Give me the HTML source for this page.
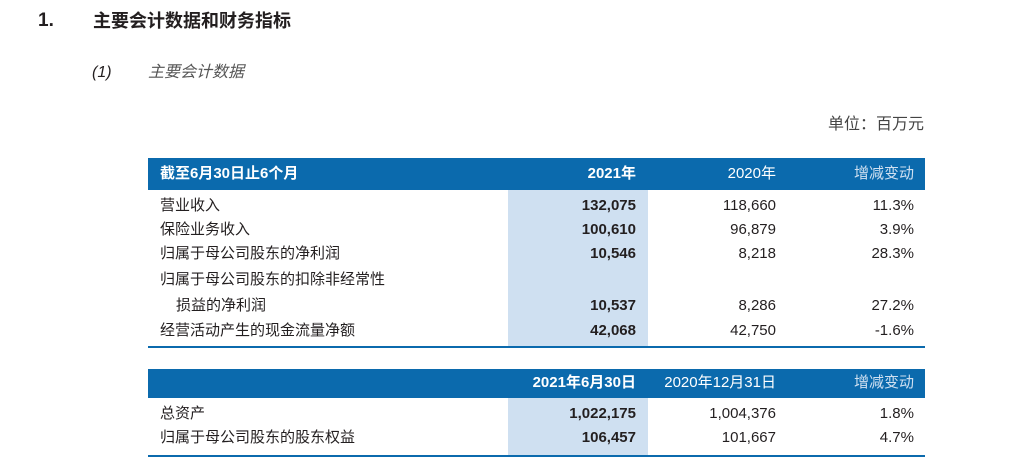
<!DOCTYPE html>
<html><head><meta charset="utf-8"><style>
body{margin:0;width:1024px;height:461px;background:#fff;position:relative;overflow:hidden;font-family:"Liberation Sans","Noto Sans CJK SC",sans-serif;color:#231f20}
.a{position:absolute;white-space:nowrap}
.hdr{position:absolute;left:148px;width:777px;background:#0b6aad}
.hl{position:absolute;left:508px;width:140px;background:#cfe0f1}
.line{position:absolute;left:148px;width:777px;height:2px;background:#0b6aad}
.r{text-align:right}
.c{font-size:15px;line-height:20px}
.h{font-size:15px;line-height:20px;color:#fff}
</style></head><body>
<div class="a" style="left:38px;top:9px;font-size:19px;font-weight:bold;line-height:24px">1.</div>
<div class="a" style="left:93px;top:9px;font-size:18px;font-weight:bold;line-height:24px">主要会计数据和财务指标</div>
<div class="a" style="left:92px;top:62px;font-size:16px;font-style:italic;line-height:22px">(1)</div>
<div class="a" style="left:148px;top:62px;font-size:16px;font-style:italic;color:#555;line-height:22px">主要会计数据</div>
<div class="a r" style="right:100px;top:114px;font-size:16px;color:#444;line-height:22px">单位：百万元</div>

<div class="hl" style="top:190px;height:157px"></div>
<div class="hdr" style="top:158px;height:32px"></div>
<div class="line" style="top:346px"></div>
<div class="a h" style="left:160px;top:164px;font-weight:bold">截至6月30日止6个月</div>
<div class="a h r" style="right:388px;top:164px;font-weight:bold">2021年</div>
<div class="a h r" style="right:248px;top:164px">2020年</div>
<div class="a h r" style="right:110px;top:164px;color:#cfe0f1">增减变动</div>

<div id="t1"></div>

<div class="hl" style="top:398px;height:57px"></div>
<div class="hdr" style="top:369px;height:29px"></div>
<div class="line" style="top:455px"></div>
<div class="a h r" style="right:388px;top:373px;font-weight:bold">2021年6月30日</div>
<div class="a h r" style="right:248px;top:373px">2020年12月31日</div>
<div class="a h r" style="right:110px;top:373px;color:#cfe0f1">增减变动</div>
<div id="t2"></div>

<script>
function row(parent,top,label,indent,v1,v2,v3){
  var p=document.getElementById(parent);
  var cells=[[label,'left:'+(160+indent)+'px',false],[v1,'right:388px',true],[v2,'right:248px',false],[v3,'right:110px',false]];
  cells.forEach(function(c,i){
    var d=document.createElement('div');
    d.className='a c'+(i?' r':'');
    d.setAttribute('style',c[1]+';top:'+top+'px;'+(c[2]?'font-weight:bold':''));
    d.textContent=c[0];
    
    
    p.appendChild(d);
  });
}
row('t1',196,'营业收入',0,'132,075','118,660','11.3%');
row('t1',220,'保险业务收入',0,'100,610','96,879','3.9%');
row('t1',244,'归属于母公司股东的净利润',0,'10,546','8,218','28.3%');
row('t1',270,'归属于母公司股东的扣除非经常性',0,'','','');
row('t1',296,'损益的净利润',16,'10,537','8,286','27.2%');
row('t1',321,'经营活动产生的现金流量净额',0,'42,068','42,750','-1.6%');
row('t2',404,'总资产',0,'1,022,175','1,004,376','1.8%');
row('t2',428,'归属于母公司股东的股东权益',0,'106,457','101,667','4.7%');
</script>
</body></html>
